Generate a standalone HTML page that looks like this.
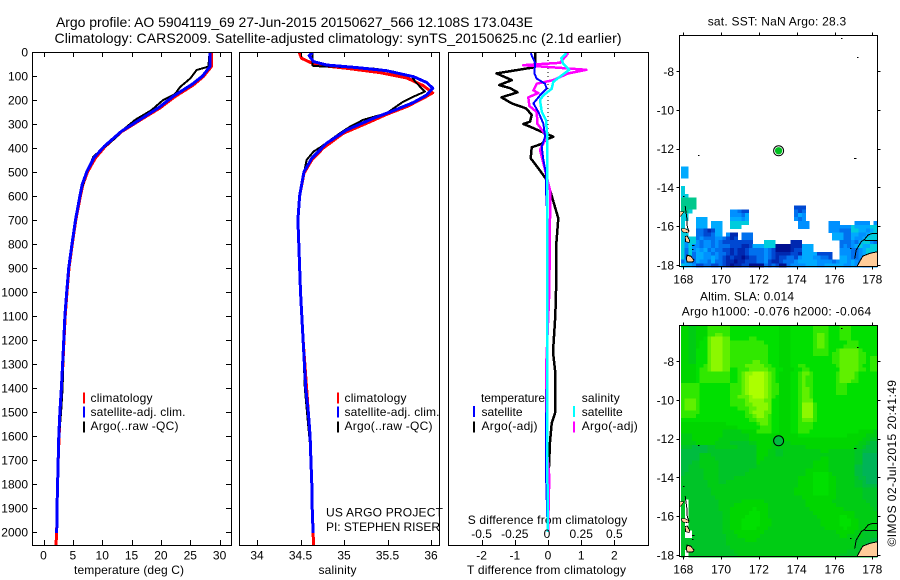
<!DOCTYPE html>
<html>
<head>
<meta charset="utf-8">
<title>Argo profile</title>
<style>
html,body{margin:0;padding:0;background:#fff;width:900px;height:580px;overflow:hidden}
svg{display:block;position:absolute;left:0;top:0}
text{font-family:"Liberation Sans",sans-serif;font-size:12px;fill:#000}
</style>
</head>
<body>
<svg id="chart" width="900" height="580" viewBox="0 0 900 580">
<text x="56" y="27" style="font-size:14px" textLength="477">Argo profile: AO 5904119_69 27-Jun-2015 20150627_566 12.108S 173.043E</text>
<text x="54.5" y="43" style="font-size:14px" textLength="567">Climatology: CARS2009. Satellite-adjusted climatology: synTS_20150625.nc (2.1d earlier)</text>
<text x="74" y="574" textLength="110">temperature (deg C)</text>
<text x="318.5" y="574" textLength="38">salinity</text>
<text x="467" y="574" textLength="159">T difference from climatology</text>
<text x="467.7" y="524" textLength="159.5">S difference from climatology</text>
<text x="326" y="516.7" textLength="117">US ARGO PROJECT</text>
<text x="326" y="531" textLength="114">PI: STEPHEN RISER</text>
<text x="707.7" y="25.7" textLength="138.5">sat. SST: NaN Argo: 28.3</text>
<text x="700" y="300.7" textLength="94">Altim. SLA: 0.014</text>
<text x="681.7" y="315.3" textLength="189.5">Argo h1000: -0.076 h2000: -0.064</text>
<text transform="translate(896,546.5) rotate(-90)" x="0" y="0" textLength="166.5">©IMOS 02-Jul-2015 20:41:49</text>
<g id="layer-maps"></g>
<g id="layer-lines"></g>
<g id="layer-axes"></g>
<g id="layer-legend"></g>
</svg>
<script>
// ---------- temperature profile (deg C) ----------
const tempClimDepth = [0,61,103,138,186,234,276,332,394,443,500,554,603,700,800,900,1000,1100,1200,1300,1400,1500,1600,1700,1800,1900,2000,2054];
const tempClimValues = [28.6,28.6,27.2,25.5,22.4,19.8,17,13.3,10.5,8.8,7.5,6.7,6.27,5.5,4.9,4.35,4,3.7,3.5,3.3,3.1,2.85,2.65,2.5,2.4,2.3,2.25,2.13];
const tempSatDepth = [0,61,100,135,183,232,274,330,392,440,498,552,600,700,800,900,1000,1100,1200,1300,1400,1500,1600,1700,1800,1900,2005];
const tempSatValues = [28.35,28.35,27.1,25.3,22.2,19.6,16.9,13.3,10.4,8.6,7.4,6.6,6.2,5.45,4.85,4.3,3.95,3.65,3.45,3.25,3.05,2.8,2.6,2.5,2.4,2.3,2.25];
const tempArgoDepth = [0,61,75,110,145,175,200,242,283,317,359,400,436,500,600,700,800,900,1000,1100,1200,1300,1400,1500,1600,1700,1750];
const tempArgoValues = [28.3,28.1,26.1,25,23.3,22.4,20.4,18.4,15.6,13.9,12.2,10.2,8.5,7.4,6.15,5.4,4.8,4.25,3.9,3.65,3.5,3.35,3.25,3,2.65,2.45,2.42];
// ---------- salinity profile ----------
const salClimDepth = [0,5,26,43,54,68,86,108,140,170,193,228,260,297,339,401,450,505,600,700,800,1000,1200,1400,1500,1600,1700,1800,1900,2000,2054];
const salClimValues = [34.49,34.49,34.51,34.61,34.69,35.03,35.41,35.72,35.91,36.02,35.91,35.72,35.49,35.26,34.99,34.76,34.63,34.54,34.49,34.47,34.48,34.5,34.53,34.57,34.59,34.61,34.62,34.63,34.635,34.645,34.65];
const salSatDepth = [0,5,15,40,54,65,78,103,127,151,179,210,244,276,325,380,443,499,600,700,800,1000,1200,1400,1500,1600,1700,1800,1900,2005];
const salSatValues = [34.63,34.63,34.6,34.65,34.8,35.15,35.49,35.8,35.95,36.02,35.95,35.8,35.57,35.34,35.03,34.8,34.63,34.54,34.49,34.47,34.48,34.5,34.53,34.56,34.59,34.61,34.62,34.63,34.635,34.645];
const salArgoDepth = [0,57,61,62,71,82,103,124,165,186,207,255,283,311,339,394,415,450,505,600,700,800,1000,1200,1400,1500,1600,1640];
const salArgoValues = [34.64,34.64,34.76,35.1,35.38,35.57,35.78,35.82,35.93,35.8,35.68,35.49,35.22,35.07,34.95,34.74,34.65,34.57,34.54,34.49,34.47,34.48,34.5,34.53,34.55,34.575,34.6,34.61];
// ---------- differences from climatology ----------
const diffTempArgoDepth = [5,45,64,89,117,138,151,168,189,214,235,262,290,300,314,336,353,364,383,397,443,485,533,575,693,800,1000,1100,1250,1325,1505,1547,1624,1760];
const diffTempArgoValues = [-0.39,-0.39,-0.44,-1.55,-1.09,-1.47,-1.14,-0.92,-1.4,-1.09,-0.66,-0.49,-0.54,-0.74,-0.49,-0.14,0.16,-0.04,-0.19,-0.49,-0.52,-0.29,-0.04,0.06,0.31,0.25,0.24,0.22,0.15,0.21,0.21,0.11,0.06,0.02];
const diffTempSatDepth = [5,45,89,111,132,153,181,214,250,299,353,394,450,506,575,690,1000,1300,1550,1760,2000];
const diffTempSatValues = [-0.52,-0.39,-0.41,-0.34,-0.09,-0.04,-0.24,-0.44,-0.29,-0.14,-0.09,-0.19,-0.14,-0.06,-0.06,-0.02,-0.03,-0.02,-0.06,-0.06,-0.01];
const diffSalArgoDepth = [5,45,55,74,89,117,132,160,171,189,225,250,299,333,353,408,464,519,575,693,1000,1200,1325,1490,1580,1650,1770,2000];
const diffSalArgoValues = [0.153,0.09,-0.186,0.29,0.153,0.04,-0.085,-0.11,-0.073,-0.148,-0.14,-0.085,-0.08,-0.035,-0.01,-0.06,-0.035,-0.01,0.015,0.015,0.01,-0.005,-0.015,-0.015,-0.01,-0.01,0.01,0];
const diffSalSatDepth = [5,25,50,74,103,124,153,181,200,250,285,353,506,690,1000,1500,1800,2000];
const diffSalSatValues = [0.14,0.1,0.115,0.16,0.09,0.04,0.028,-0.035,-0.06,-0.047,-0.015,-0.005,-0.005,-0.005,-0.004,-0.005,-0.004,-0.004];
// ---------- tick labels ----------
const depthTicks = [0,100,200,300,400,500,600,700,800,900,1000,1100,1200,1300,1400,1500,1600,1700,1800,1900,2000];
const tempTicks = [0,5,10,15,20,25,30];
const salTicks = [34,34.5,35,35.5,36];
const diffTempTicks = [-2,-1,0,1,2];
const diffSalTicks = [-0.5,-0.25,0,0.25,0.5];
const lonTicks = [168,170,172,174,176,178];
const latTicks = [-8,-10,-12,-14,-16,-18];
// ---------- map grids: one string per latitude row, 52 longitude cells each ----------
const sstRows = [];
sstRows[34]="aa";
sstRows[35]="aa";
sstRows[36]="aa";
sstRows[39]="g";
sstRows[40]="g";
sstRows[41]="gg";
sstRows[42]="hhhh";
sstRows[43]="hhhh";
sstRows[44]="hhhh .......... .......... ...... ddd";
sstRows[45]="hhg .......... bbcdd .......... .. cdc";
sstRows[46]="gg .......... . bbbca .......... .. cab";
sstRows[47]="gg .. aaa ...... aaaba .......... .. bcb";
sstRows[48]="g... aaa . aaa .. ggggg .......... ... bbb ..... bbb .... bbbb . b";
sstRows[49]="g... aaa . aaa .. ggg .......... ..... bbb ..... bbbbbb g aaaa gg";
sstRows[50]="gg.. ccded aa .......... .......... ........ bbb ccc gg aab a g";
sstRows[51]="gg.. ccddc aa . b ee . ccc .......... .......... . aaa cc aa bb a gg";
sstRows[52]="gbgg c b ccc bb c d e d . ccc .......... .......... . aaa cc a bb a ggg";
sstRows[53]="gbgg b c bb c b c dddddddd ... ggg .... eee .......... ccc b c a ggbc";
sstRows[54]="gbgbbcbbcbcccdddeed aaa ggg ffff eee aaa ....... cbcbagaagg";
sstRows[55]="gcgbabacbccddedeedcccc bcd ffff edd aaa ....... bbb cc b a ggg";
sstRows[56]="gcgcaabbcbccdedeedccccbcd eeee dde aaa a dddd .. bbb cc b a gab";
sstRows[57]="gcbcaabbabcdedeefeddccbcd eddc cdb aaa b bccd .. aab cc b a bab";
sstRows[58]="cabcabbcaccdeefeedddccbde edcc cba aaa abbb bc baab abccaab";
sstRows[59]="gaab ddccd dcd ef eedd ffff cdcd ff cbbbba aabbaaa aabbab bccaa";

const slaRows = [
"44 33 444 666666 5555555555555 444 555555 6666 555 666 5555555",
"44 33 444 666666 5555555555555 444 555555 6666 555 666 5555555",
"44 33 444 66 77 66 5555555555555 444 555555 6 77 6 555 666 5555555",
"44 33 445 7 888 77 55555 66 555555 444 555555 6 77 6 555 666 5555555",
"44 33 455 7 888 77 666666666 5555 444 555555 6 77 6 555 55 666 55555",
"44 33 455 7 888 77 6666666666 555 444 555555 6 77 6 555 5 6666 55555",
"44 33 555 7 888 77 6666666666 555 444 555555 6666 55 6 77777 6 5555",
"44 33 555 7 888 77 6666666666 555 444 555555 6666 5 66 77777 66 555",
"44 33 555 7 888 77 6666666666 555 444 555555 5555 5 66 77777 6 6 5 66",
"44 33 555 7 888 77 666666 77 66 555 444 555555 5555 5 66 77777 66 5 66",
"4444 55 6 7 888 77 6666 77777 66 55 444 55 66 55555555 6 77777 6 55 66",
"4444 5 66 7 888 77 55 666 77777 66 55 444 55 66 55555555 77777 66 5 66",
"4444 5 66666666 55 6 7 88 999 8 7 6 5 444 55 6 77 6 555555 6 7777 6 55555",
"4444 5 66666666 55 6 7 8 9999 8 7 6 5 444 55 6 7 66 555555 6 7777 6 55555",
"4444 5 66666666 55 6 7 8 9999 8 7 6 5 444 55 6 7 66 555555 6 777 66 55555",
"66666 55555555 666 7 8 9999 8 7 66 444 55 6 7 66 555555 666 55555555",
"66666 55555555 666 7 8 9999 8 7 66 444 55 6 77 6 555555 666 55555555",
"66666 55555555 666 7 8 9999 8 7 66 444 55 6 77 6 555555 666 55555555",
"66666 55555555 66 777 8 999 8 7 6 5 444 55 6 77 6 55555555555555555",
"6 777 6 55555555 6666 7 8888 77 55 444 55 6 777 55555555555555555",
"6 777 6 55555555 6666 77 8888 7 55 444 55 6 888 6 5555555555555555",
"6 777 6 55555555 55 666 77 888 7 55 444 55 6 888 6 5555555555555555",
"66666 55555555 5555 6 7 888 77 55 444 55 6 888 6 5555555555555555",
"6666 5 55555555 5555 66 7 88 7 6 55 444 55 6 888 6 5555555555555555",
"555555555555555555 66 777 6 55 444 55 6 777 6 5555555555555555",
"444444444444555555 55 6 77 6 55 444 55 6666 5 5555555555555555",
"444444444444444555 555 666 55 444 55 6666 55555555555555555",
"444444444443333344 44 6666 55 444 55 666 555555555555544443",
"333444444443333333 44 4444 44 444 44 555 555555555544444333",
"333444444433333333 44 4444 33 444 44 444 444444444444443322",
"333344444333322222 33 4444 33 333 44 444 444444444444433211",
"2221111 22333 33322222 44443 3333 333344 4444 4444444 33 2111",
"1111111 22222 22222222 44433 2233 333333 3344 3333333 22 1111",
"11111 333 2222 22222222 44433 2233 333333 3333 3333333 22 0000",
"11111 333 3222 22222222 44333 3333 333333 3344 3333333 22 0000",
"11122 333 3322 22222222 43333 3333 333333 4444 3333333 22 0000",
"11222 333 3322 22222222 33333 3333 333333 4444 3333333 11 0000",
"11222 233 3322 22222233 33333 3333 333344 4444 3333333 11 0000",
"12222 233 3322 22222333 33333 3333 333344 5555 4333333 11 0000",
"22222 233 3322 22333333 33333 3333 334444 5555 4433333 21 1000",
"22222 223 3322 33333333 33333 3333 334444 5555 4433333 22 1000",
"22222 223 3333 33333333 33333 3333 334444 5555 4433333 22 1111",
"22222 222 3333 33333333 33333 3333 344444 5555 4433333 33 2222",
"22222 222 3333 33333333 33333 3333 344444 5555 4433333 33 2222",
"22222 222 2333 33333333 33333 3333 333444 4444 4433333 33 2222",
"2.222 222 2233 33334444 44333 3333 333344 4444 4333333 33 3222",
"2.222 222 2233 33444444 44433 3333 333344 4444 4433333 33 3322",
"2.222 222 2233 34444445 44433 3333 333334 4444 4444333 33 3332",
"2.222 222 2223 34444455 54433 3333 333333 4444 4444444 33 3333",
"2.222 222 2223 34444555 54433 3333 333333 3444 4445544 33 3333",
"2.222 222 2223 34445555 54443 3333 333333 3344 4445554 43 3333",
"2.222 222 2223 34445555 54443 3333 333333 3344 4445554 43 3333",
"22222 222 2223 34445555 44433 3333 333333 3334 4444544 43 3333",
"2..22 222 2223 33444444 44333 3333 333333 3333 3344444 33 2222",
"2..22 222 2222 33344444 43333 3333 333333 3333 3334433 33 2222",
"22222 222 2222 33333444 33333 3333 333333 3333 3333333 22 2211",
"22222 222 2222 33333333 33333 3333 333333 3333 3333333 22 2111",
"22222 222 2222 23333333 33333 3333 333333 3333 3333333 22 2111",
"2.222 222 2222 22333333 33333 3333 333333 3333 3333322 22 2111",
"2.222 222 2222 22233333 33333 3333 333333 3333 3332222 22 2111"
];
// ---------- float position and coast geometry (lon / lat) ----------
const floatLon = 173.043;
const floatLat = -12.108;
const landSeLon = [177.2,177.5,177.86,178.25,178.25];
const landSeLat = [-18.06,-17.55,-17.41,-17.33,-18.06];
const landW1Lon = [167.8,168.04,167.85,167.8];
const landW1Lat = [-15.25,-15.25,-15.5,-15.5];
const landW2Lon = [167.9,168.1,168.3,168.25,167.95];
const landW2Lat = [-16.15,-16.13,-16.25,-16.34,-16.3];
const landW3Lon = [168.1,168.2,168.34,168.3,168.12];
const landW3Lat = [-16.55,-16.5,-16.75,-16.85,-16.8];
const landW4Lon = [168.2,168.38,168.57,168.5,168.2,168.16];
const landW4Lat = [-17.5,-17.55,-17.75,-17.85,-17.85,-17.7];
const coastFijiLon = [177.07,177.15,177.42,177.6,177.77,178.03,178.25];
const coastFijiLat = [-17.67,-17.24,-16.8,-16.68,-16.46,-16.37,-16.37];
const coastFiji2Lon = [177.6,178.25];
const coastFiji2Lat = [-16.75,-16.75];
const coastVanLon = [168.1,168.14,168.18,168.21,168.3];
const coastVanLat = [-14.96,-15.25,-15.51,-16.03,-16.29];
const islandLon = [176.34,177.17,168.78,177.03,168,176.8,168.45,168.5,168.45,177.08];
const islandLat = [-6.3,-7.28,-12.3,-12.5,-14.45,-17.13,-16.97,-17,-17.2,-12.48];

// ---------- scales ----------
const yDepth = d => 52 + 0.24 * d;
const xTemp = t => 43.5 + 5.87 * t;
const xSal = s => 257 + 87 * (s - 34);
const xDiffT = t => 548 + 33.2 * t;
const xDiffS = s => 548 + 132.8 * s;
const xLon = lon => 683.3 + 18.9 * (lon - 168);
const yLatSst = lat => 71.3 + 19.35 * (-8 - lat);
const yLatSla = lat => 361.3 + 19.35 * (-8 - lat);
const gridLon0 = 167.87, gridLat0 = -6.13, gridStep = 0.2;

const NS = 'http://www.w3.org/2000/svg';
const layerMaps = document.getElementById('layer-maps');
const layerLines = document.getElementById('layer-lines');
const layerAxes = document.getElementById('layer-axes');
const layerLegend = document.getElementById('layer-legend');

function add(parent, tag) {
  const el = document.createElementNS(NS, tag);
  parent.appendChild(el);
  return el;
}
function seg(parent, x1, y1, x2, y2, color, w, name) {
  const el = add(parent, 'line');
  el.setAttribute('x1', x1);
  el.setAttribute('y1', y1);
  el.setAttribute('x2', x2);
  el.setAttribute('y2', y2);
  el.setAttribute('stroke', color);
  el.setAttribute('stroke-width', w);
  el.setAttribute('shape-rendering', 'crispEdges');
  
  
  return el;
}
function label(parent, str, x, y, anchor, name, len) {
  const el = add(parent, 'text');
  el.setAttribute('x', x);
  el.setAttribute('y', y);
  el.setAttribute('text-anchor', anchor);
  if (len) el.setAttribute('textLength', len);
  el.textContent = str;
  
  
  return el;
}
function series(values, depths, xScale, color, w, name) {
  const el = add(layerLines, 'polyline');
  el.setAttribute('points', values.map((v, i) => xScale(v).toFixed(1) + ',' + yDepth(depths[i]).toFixed(1)).join(' '));
  el.setAttribute('fill', 'none');
  el.setAttribute('stroke', color);
  el.setAttribute('stroke-width', w);
  el.setAttribute('stroke-linejoin', 'round');
  el.setAttribute('shape-rendering', 'crispEdges');
  
  
  return el;
}
function frame(parent, x, y, w, h, name) {
  const el = add(parent, 'rect');
  el.setAttribute('x', x);
  el.setAttribute('y', y);
  el.setAttribute('width', w);
  el.setAttribute('height', h);
  el.setAttribute('fill', 'none');
  el.setAttribute('stroke', '#000');
  el.setAttribute('stroke-width', 1);
  el.setAttribute('shape-rendering', 'crispEdges');
  
  
}

// ---------- profile series ----------
series(tempClimValues, tempClimDepth, xTemp, '#ff0000', 3, 'temperature-climatology-line');
series(tempArgoValues, tempArgoDepth, xTemp, '#000000', 2, 'temperature-argo-line');
series(tempSatValues, tempSatDepth, xTemp, '#0000ff', 3, 'temperature-satellite-line');
series(salClimValues, salClimDepth, xSal, '#ff0000', 3, 'salinity-climatology-line');
series(salArgoValues, salArgoDepth, xSal, '#000000', 2, 'salinity-argo-line');
series(salSatValues, salSatDepth, xSal, '#0000ff', 3, 'salinity-satellite-line');

const zeroLine = seg(layerLines, xDiffT(0), yDepth(0), xDiffT(0), yDepth(2000), '#000', 1, 'zero-difference-line');
zeroLine.setAttribute('stroke-dasharray', '1 3');
series(diffTempArgoValues, diffTempArgoDepth, xDiffT, '#000000', 2.5, 'diff-temperature-argo-line');
series(diffSalArgoValues, diffSalArgoDepth, xDiffS, '#ff00ff', 2.5, 'diff-salinity-argo-line');
series(diffTempSatValues, diffTempSatDepth, xDiffT, '#0000ff', 2, 'diff-temperature-satellite-line');
series(diffSalSatValues, diffSalSatDepth, xDiffS, '#00ffff', 2.5, 'diff-salinity-satellite-line');

// ---------- axes for profile panels ----------
frame(layerAxes, 32.5, 52.5, 199, 493, 'temperature-panel-frame');
frame(layerAxes, 239.5, 52.5, 200, 493, 'salinity-panel-frame');
frame(layerAxes, 448.5, 52.5, 200, 493, 'difference-panel-frame');
depthTicks.forEach(d => {
  const y = Math.round(yDepth(d)) + 0.5;
  seg(layerAxes, 32, y, 37, y, '#000', 1, 'depth-tick-left');
  seg(layerAxes, 226, y, 231, y, '#000', 1, 'depth-tick-right');
  label(layerAxes, String(d), 28, yDepth(d) + 4.5, 'end', 'depth-tick-label');
});
function xTicks(ticks, scale, name) {
  ticks.forEach(v => {
    const x = Math.round(scale(v)) + 0.5;
    seg(layerAxes, x, 52, x, 57, '#000', 1, name + '-tick-top');
    seg(layerAxes, x, 540, x, 545, '#000', 1, name + '-tick-bottom');
    label(layerAxes, String(v), scale(v), 559.5, 'middle', name + '-tick-label');
  });
}
xTicks(tempTicks, xTemp, 'temperature');
xTicks(salTicks, xSal, 'salinity');
xTicks(diffTempTicks, xDiffT, 'diff-temperature');
diffSalTicks.forEach(v => {
  label(layerAxes, String(v), xDiffS(v) - (v === 0 ? 1 : 0), 538, 'middle', 'diff-salinity-tick-label');
});

// ---------- legends ----------
function legendMark(x, y, color, name) {
  seg(layerLegend, x, y, x, y + 11, color, 2, name);
}
legendMark(84, 392.5, '#ff0000', 'legend-temp-climatology-mark');
label(layerLegend, 'climatology', 90.5, 402, 'start', 'legend-temp-climatology', 62);
legendMark(84, 406.5, '#0000ff', 'legend-temp-satellite-mark');
label(layerLegend, 'satellite-adj. clim.', 90.5, 416, 'start', 'legend-temp-satellite', 95);
legendMark(84, 421.5, '#000000', 'legend-temp-argo-mark');
label(layerLegend, 'Argo(..raw -QC)', 90.5, 430, 'start', 'legend-temp-argo', 88);

legendMark(338, 392.5, '#ff0000', 'legend-sal-climatology-mark');
label(layerLegend, 'climatology', 344.5, 402, 'start', 'legend-sal-climatology', 62);
legendMark(338, 406.5, '#0000ff', 'legend-sal-satellite-mark');
label(layerLegend, 'satellite-adj. clim.', 344.5, 416, 'start', 'legend-sal-satellite', 95);
legendMark(338, 421.5, '#000000', 'legend-sal-argo-mark');
label(layerLegend, 'Argo(..raw -QC)', 344.5, 430, 'start', 'legend-sal-argo', 88);

label(layerLegend, 'temperature', 481, 402, 'start', 'legend-diff-temperature-heading', 64);
legendMark(474, 406, '#0000ff', 'legend-diff-temp-satellite-mark');
label(layerLegend, 'satellite', 481.5, 416, 'start', 'legend-diff-temp-satellite', 41);
legendMark(474, 421.5, '#000000', 'legend-diff-temp-argo-mark');
label(layerLegend, 'Argo(-adj)', 481.5, 430, 'start', 'legend-diff-temp-argo', 56);
label(layerLegend, 'salinity', 581.7, 402, 'start', 'legend-diff-salinity-heading', 38);
legendMark(574, 406, '#00ffff', 'legend-diff-sal-satellite-mark');
label(layerLegend, 'satellite', 581.7, 416, 'start', 'legend-diff-sal-satellite', 41);
legendMark(574, 421.5, '#ff00ff', 'legend-diff-sal-argo-mark');
label(layerLegend, 'Argo(-adj)', 581.7, 430, 'start', 'legend-diff-sal-argo', 56);

// ---------- maps ----------
const sstColors = {a:'#00aaff',b:'#0090ff',c:'#0070ee',d:'#0048d2',e:'#0028b0',f:'#001090',g:'#00ccdd',h:'#00c88c'};
const slaColors = ['#00b458','#00bc40','#00c428','#00cc14','#00d600','#00e000','#30e800','#60f000','#8cf800','#acff00'];

function drawGrid(rows, yLat, colorOf, name) {
  const g = add(layerMaps, 'g');
  g.setAttribute('shape-rendering', 'crispEdges');
  
  
  rows.forEach((row, j) => {
    if (!row) return;
    const cells = row.replace(/ /g, '');
    const y0 = yLat(gridLat0 - gridStep * j);
    const y1 = yLat(gridLat0 - gridStep * (j + 1));
    for (let i = 0; i < cells.length && i < 52; i++) {
      const color = colorOf(cells[i]);
      if (!color) continue;
      const x0 = xLon(gridLon0 + gridStep * i);
      const x1 = xLon(gridLon0 + gridStep * (i + 1));
      const r = add(g, 'rect');
      r.setAttribute('x', x0.toFixed(2));
      r.setAttribute('y', y0.toFixed(2));
      r.setAttribute('width', (x1 - x0 + 0.3).toFixed(2));
      r.setAttribute('height', (y1 - y0 + 0.3).toFixed(2));
      r.setAttribute('fill', color);
      
      
    }
  });
}
drawGrid(sstRows, yLatSst, c => sstColors[c], 'sst');
drawGrid(slaRows, yLatSla, c => (c === '.' ? null : slaColors[+c]), 'sla');

function geoPoly(tag, lons, lats, yLat, fill, stroke, w, name) {
  const el = add(layerMaps, tag);
  el.setAttribute('points', lons.map((lon, i) => xLon(lon).toFixed(1) + ',' + yLat(lats[i]).toFixed(1)).join(' '));
  el.setAttribute('fill', fill);
  el.setAttribute('stroke', stroke);
  el.setAttribute('stroke-width', w);
  el.setAttribute('shape-rendering', 'crispEdges');
  
  
}
[['sst', yLatSst, 35.5], ['sla', yLatSla, 325.5]].forEach(([prefix, yLat, top]) => {
  geoPoly('polygon', landSeLon, landSeLat, yLat, '#ffcc99', 'none', 0, prefix + '-land-fiji');
  geoPoly('polygon', landW1Lon, landW1Lat, yLat, '#ffcc99', '#000', 0.6, prefix + '-land-island');
  geoPoly('polygon', landW2Lon, landW2Lat, yLat, '#ffcc99', '#000', 0.6, prefix + '-land-island');
  geoPoly('polygon', landW3Lon, landW3Lat, yLat, '#ffcc99', '#000', 0.8, prefix + '-land-island');
  geoPoly('polygon', landW4Lon, landW4Lat, yLat, '#ffcc99', '#000', 1, prefix + '-land-island');
  geoPoly('polyline', landSeLon.slice(0, 4), landSeLat.slice(0, 4), yLat, 'none', '#000', 1, prefix + '-coast-land');
  geoPoly('polyline', coastFijiLon, coastFijiLat, yLat, 'none', '#000', 1, prefix + '-coast-fiji');
  geoPoly('polyline', coastFiji2Lon, coastFiji2Lat, yLat, 'none', '#000', 1, prefix + '-coast-fiji-inner');
  geoPoly('polyline', coastVanLon, coastVanLat, yLat, 'none', '#000', 1, prefix + '-coast-vanuatu');
  islandLon.forEach((lon, i) => {
    const dot = add(layerMaps, 'rect');
    dot.setAttribute('x', Math.round(xLon(lon)));
    dot.setAttribute('y', Math.round(yLat(islandLat[i])));
    dot.setAttribute('width', 1.5);
    dot.setAttribute('height', 1);
    dot.setAttribute('fill', '#000');
    
    
  });
  const bottom = top + 231;
  frame(layerAxes, 679.5, top, 198, 231, prefix + '-map-frame');
  lonTicks.forEach(lon => {
    const x = Math.round(xLon(lon)) + 0.5;
    seg(layerAxes, x, top - 3, x, top, '#000', 1, prefix + '-lon-tick-top');
    seg(layerAxes, x, bottom, x, bottom + 3, '#000', 1, prefix + '-lon-tick-bottom');
    label(layerAxes, String(lon), xLon(lon), bottom + 17, 'middle', prefix + '-lon-tick-label');
  });
  latTicks.forEach(lat => {
    const y = Math.round(yLat(lat)) + 0.5;
    seg(layerAxes, 676.5, y, 679.5, y, '#000', 1, prefix + '-lat-tick-left');
    seg(layerAxes, 877.5, y, 880.5, y, '#000', 1, prefix + '-lat-tick-right');
    label(layerAxes, String(lat), 674, yLat(lat) + 4.5, 'end', prefix + '-lat-tick-label');
  });
});

const floatRing = add(layerAxes, 'circle');
floatRing.setAttribute('cx', xLon(floatLon));
floatRing.setAttribute('cy', yLatSst(floatLat));
floatRing.setAttribute('r', 5);
floatRing.setAttribute('fill', '#fff');
floatRing.setAttribute('stroke', '#000');
floatRing.setAttribute('stroke-width', 1);



const floatSst = add(layerAxes, 'circle');
floatSst.setAttribute('cx', xLon(floatLon));
floatSst.setAttribute('cy', yLatSst(floatLat));
floatSst.setAttribute('r', 3.7);
floatSst.setAttribute('fill', '#00c020');



const floatSla = add(layerAxes, 'circle');
floatSla.setAttribute('cx', xLon(floatLon));
floatSla.setAttribute('cy', yLatSla(floatLat));
floatSla.setAttribute('r', 5);
floatSla.setAttribute('fill', '#00bc40');
floatSla.setAttribute('stroke', '#000');
floatSla.setAttribute('stroke-width', 1);


</script>
</body>
</html>
